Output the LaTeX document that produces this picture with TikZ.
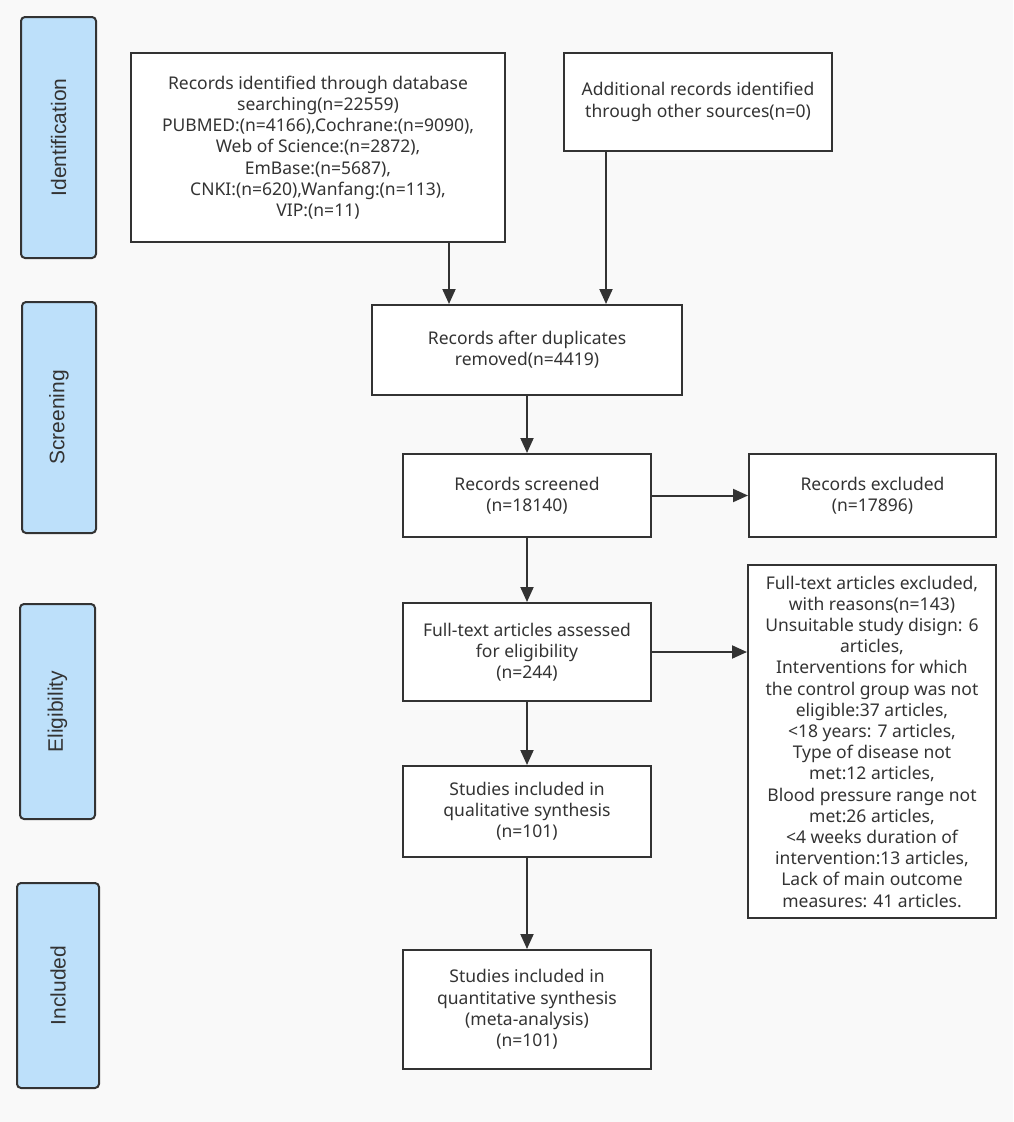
\documentclass[tikz,border=0pt]{standalone}
\usepackage{fontspec}
\setmainfont{Noto Sans}
\newfontfamily\sidefont{Liberation Sans}
\usetikzlibrary{arrows.meta,calc}
\definecolor{bg}{HTML}{F9F9F9}
\definecolor{ln}{HTML}{333333}
\definecolor{sideblue}{HTML}{BDE0FA}
\begin{document}
\begin{tikzpicture}[x=1pt,y=-1pt,
  box/.style={draw=ln, line width=2pt, fill=white, align=center, inner sep=0pt,
    font=\fontsize{17.5}{21.2}\selectfont, text=ln},
  side/.style={draw=ln, line width=2pt, fill=sideblue, rounded corners=4pt, inner sep=0pt,
    rotate=90, font=\sidefont\fontsize{21}{24}\selectfont, text=ln},
  arr/.style={draw=ln, line width=2pt, -{Triangle[length=15pt,width=13pt]}}]
\fill[bg] (0,0) rectangle (1013,1122);
\useasboundingbox (0,0) rectangle (1013,1122);

% side stage labels
\node[side, minimum width=241pt, minimum height=75pt] (idn) at (58.5,137.5) {Identification};
\node[side, minimum width=231pt, minimum height=74pt] (scr) at (59,417.5) {Screening};
\node[side, minimum width=215pt, minimum height=75pt] (eli) at (57.5,711.5) {Eligibility};
\node[side, minimum width=205pt, minimum height=82pt] (inc) at (58,985.5) {Included};

% main boxes
\node[box, minimum width=374pt, minimum height=189pt] (db) at (318,147.5)
  {Records identified through database\\ searching(n=22559)\\ PUBMED:(n=4166),Cochrane:(n=9090),\\ Web of Science:(n=2872),\\ EmBase:(n=5687),\\ CNKI:(n=620),Wanfang:(n=113),\\ VIP:(n=11)};
\node[box, minimum width=268pt, minimum height=98pt] (add) at (698,102)
  {Additional records identified\\ through other sources(n=0)};
\node[box, minimum width=310pt, minimum height=90pt] (dup) at (527,350)
  {Records after duplicates\\ removed(n=4419)};
\node[box, minimum width=248pt, minimum height=83pt] (scrn) at (527,495.5)
  {Records screened\\ (n=18140)};
\node[box, minimum width=247pt, minimum height=83pt] (exc) at (872.5,495.5)
  {Records excluded\\ (n=17896)};
\node[box, minimum width=248pt, minimum height=98pt] (full) at (527,652)
  {Full-text articles assessed\\ for eligibility\\ (n=244)};
\node[box, minimum width=248pt, minimum height=353pt] (ftex) at (872,741.5)
  {Full-text articles excluded,\\ with reasons(n=143)\\ Unsuitable study disign: 6\\ articles,\\ Interventions for which\\ the control group was not\\ eligible:37 articles,\\ <18 years: 7 articles,\\ Type of disease not\\ met:12 articles,\\ Blood pressure range not\\ met:26 articles,\\ <4 weeks duration of\\ intervention:13 articles,\\ Lack of main outcome\\ measures: 41 articles.};
\node[box, minimum width=248pt, minimum height=91pt] (qual) at (527,811.5)
  {Studies included in\\ qualitative synthesis\\ (n=101)};
\node[box, minimum width=248pt, minimum height=119pt] (quan) at (527,1009.5)
  {Studies included in\\ quantitative synthesis\\ (meta-analysis)\\ (n=101)};

% connectors
\path (dup.north west) ++(78,0) coordinate (d1);
\path (dup.north west) ++(235,0) coordinate (d2);
\draw[arr] (d1 |- db.south) -- (d1);
\draw[arr] (d2 |- add.south) -- (d2);
\draw[arr] (dup.south) -- (scrn.north);
\draw[arr] (scrn.east) -- (exc.west);
\draw[arr] (scrn.south) -- (full.north);
\draw[arr] (full.east) -- (full.east -| ftex.west);
\draw[arr] (full.south) -- (qual.north);
\draw[arr] (qual.south) -- (quan.north);
\end{tikzpicture}
\end{document}
